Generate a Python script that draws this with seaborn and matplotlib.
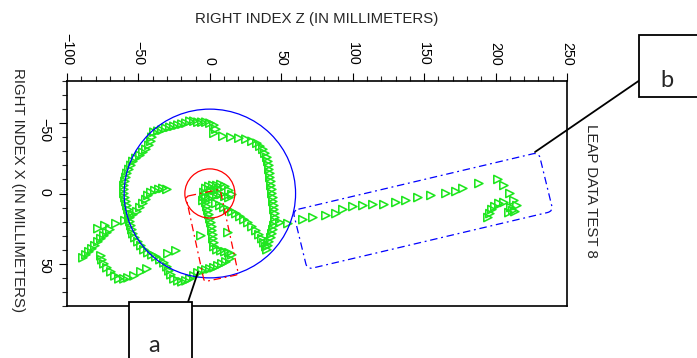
import matplotlib
matplotlib.use("Agg")
import matplotlib.pyplot as plt
import seaborn as sns
import pandas as pd
from matplotlib.patches import Ellipse, FancyBboxPatch, Rectangle
from matplotlib.transforms import Affine2D
from matplotlib.lines import Line2D
from matplotlib.ticker import MultipleLocator

# ---------------- data (Z = horizontal, X = vertical, millimeters) ----------------
loop_top_z = [-39.2, -36.4, -33.6, -30.8, -28.0, -25.2, -22.4, -19.6, -16.8, -14.0, -11.2, -8.4, -5.6, -2.8, 0.0, 2.8, 4.2]
loop_top_x = [-43.6, -44.3, -45.0, -46.4, -47.1, -47.8, -48.6, -49.3, -50.0, -51.4, -51.4, -50.7, -50.7, -50.7, -50.0, -48.6, -45.7]

top_sparse_z = [2.8, 9.1, 14.7, 20.3, 25.2, 29.4]
top_sparse_x = [-42.8, -40.7, -40.0, -39.3, -38.6, -37.1]

right_side_z = [32.9, 35.0, 37.1, 38.5, 39.9, 40.6, 41.3, 41.3, 42.0, 42.0, 42.7, 42.7, 43.4, 43.4,
                44.1, 44.1, 44.8, 44.8, 45.5, 45.5, 45.5, 44.8, 44.1, 43.4, 42.7, 41.3, 40.6, 39.9]
right_side_x = [-35.7, -33.6, -31.4, -28.6, -25.7, -22.8, -20.0, -17.1, -14.3, -11.4, -8.6, -5.7, -2.9, 0.0,
                2.9, 5.7, 8.6, 11.4, 14.3, 17.1, 20.0, 22.8, 25.7, 28.6, 31.4, 34.3, 37.1, 40.0]

diagonal_z = [4.2, 7.0, 9.8, 12.6, 15.4, 18.2, 21.0, 23.8, 26.6, 29.4, 32.2, 34.3, 36.4, 37.8, 39.2]
diagonal_x = [7.1, 8.6, 10.0, 11.4, 12.9, 14.3, 16.4, 18.6, 20.7, 23.6, 26.4, 29.3, 32.1, 35.0, 37.8]

column_loop_z = [-2.8, -2.1, -1.4, -0.7, 0.0, 0.7, 1.4, 1.4, 2.1, 2.1, 2.8, 2.8, 4.9, 7.7, 10.5, 13.3, 15.4,
                 14.0, 11.2, 8.4, 5.6, 2.8, 0.0, -2.8, -5.6, -8.4, -11.2, -14.0, -16.8, -19.6, -22.4, -25.2,
                 -27.3, -28.7, -30.1, -32.2, -35.0, -37.8, -40.6, -43.4, -46.2, -48.3, -50.4, -52.5, -53.9,
                 -54.6, -55.3, -56.0, -56.0, -56.7, -57.4, -58.1, -58.8, -59.5, -60.2, -60.2, -60.2, -59.5,
                 -58.8, -58.1, -56.7, -55.3, -53.9, -51.8, -49.0, -46.9, -44.8, -42.7, -41.3, -40.6]
column_loop_x = [6.4, 9.3, 12.1, 15.0, 17.9, 20.7, 23.6, 26.4, 29.3, 32.1, 35.0, 37.8, 40.0, 40.7, 41.4, 42.1, 43.6,
                 46.4, 48.6, 50.0, 51.4, 52.8, 53.6, 54.3, 55.0, 56.4, 58.6, 60.7, 62.1, 62.8, 62.1, 60.7,
                 57.8, 55.0, 52.1, 49.3, 47.1, 45.0, 43.6, 42.1, 40.0, 37.1, 34.3, 31.4, 28.6,
                 25.7, 22.8, 20.0, 17.1, 14.3, 11.4, 8.6, 5.7, 2.9, 0.0, -2.9, -5.7, -8.6,
                 -11.4, -14.3, -17.1, -20.0, -22.8, -25.0, -27.1, -29.3, -31.4, -34.3, -37.1, -40.0]

blob_z = [-4.2, -2.8, -0.7, 2.1, 4.9, 7.7, 10.5, 13.3, 15.4, 13.3, 10.5, 7.7, 4.9, 2.1, -0.7, -2.8, -4.2, -4.9, 0.7, 3.5, 6.3]
blob_x = [-0.7, -3.6, -5.0, -5.7, -5.7, -6.4, -5.0, -2.1, 0.7, 2.9, 2.1, 0.7, 1.4, 2.1, 3.6, 2.9, 2.1, 5.0, -2.1, -2.1, -2.9]

tongue_z = [-30.1, -32.9, -35.7, -38.5, -41.3, -43.4, -44.8, -46.9, -49.0, -51.1, -53.9, -56.7, -59.5, -65.8, -73.5, -78.4]
tongue_x = [-2.9, -3.6, -2.9, -2.1, -0.7, 1.4, 4.3, 7.1, 10.0, 12.9, 15.0, 17.1, 19.3, 21.4, 22.8, 25.0]

stroke_z = [-88.9, -86.8, -84.7, -82.6, -80.5, -78.4, -76.3, -74.2, -72.1, -70.0]
stroke_x = [45.7, 43.6, 41.4, 39.3, 37.1, 34.3, 32.1, 30.0, 27.8, 25.7]

hook_z = [-76.3, -75.6, -74.2, -72.1, -69.3, -66.5, -63.7, -60.2, -57.4, -53.2, -48.3, -44.1, -29.4, -23.8]
hook_x = [44.3, 47.1, 50.0, 52.8, 55.7, 58.6, 60.7, 60.7, 60.0, 58.6, 55.7, 53.6, 42.8, 40.7]

isolated_z = [-6.3, 12.6, 49.0]
isolated_x = [30.0, 27.8, 20.7]

far_z = [54.6, 65.1, 72.1, 81.2, 88.2, 93.1, 100.1, 107.1, 114.1, 121.8, 130.2, 137.2, 145.6, 154.7, 165.2,
         172.2, 177.1, 188.3, 201.6, 205.8, 210.0, 212.8, 214.9, 212.1, 210.7, 213.5, 209.3,
         205.8, 202.3, 199.5, 197.4, 196.0, 194.6]
far_x = [21.4, 18.6, 17.1, 15.7, 14.3, 11.4, 9.3, 8.6, 7.9, 7.9, 6.4, 5.0, 2.9, 1.4, 0.0,
         -1.4, -3.6, -7.1, -10.0, -5.7, 0.0, 5.0, 8.6, 12.1, 10.0, 12.9, 13.6,
         6.4, 7.1, 9.3, 11.4, 14.3, 17.1]

x_ticks = [-100, -50, 0, 50, 100, 150, 200, 250]
y_ticks = [-50, 0, 50]

GREEN = "#1fe61f"
BLUE = "#0000ff"
RED = "#ff0000"

segments = [
    (loop_top_z, loop_top_x), (top_sparse_z, top_sparse_x), (right_side_z, right_side_x),
    (diagonal_z, diagonal_x), (column_loop_z, column_loop_x), (blob_z, blob_x),
    (tongue_z, tongue_x), (stroke_z, stroke_x), (hook_z, hook_x),
    (isolated_z, isolated_x), (far_z, far_x),
]
df = pd.concat([pd.DataFrame({"z": z, "x": x}) for z, x in segments], ignore_index=True)

# ---------------- style ----------------
sns.set_style("white")
plt.rcParams["font.family"] = ["Liberation Sans", "DejaVu Sans"]

W, H = 697, 358
fig = plt.figure(figsize=(W / 100, H / 100), dpi=100)
ax = fig.add_axes([67 / W, 1 - 306 / H, 500 / W, 225 / H])

sns.scatterplot(data=df, x="z", y="x", marker=">", s=34, ax=ax, legend=False, zorder=2)
coll = ax.collections[0]
coll.set_facecolor("none")
coll.set_edgecolor(GREEN)
coll.set_linewidth(1.15)

ax.set_xlim(-100, 250)
ax.set_ylim(80, -80)
ax.set_xlabel("")
ax.set_ylabel("")
ax.set_xticks(x_ticks)
ax.set_yticks(y_ticks)
ax.xaxis.set_minor_locator(MultipleLocator(10))
ax.yaxis.set_minor_locator(MultipleLocator(10))
ax.xaxis.tick_top()
ax.tick_params(axis="x", which="both", top=True, bottom=False, labeltop=True, labelbottom=False,
               direction="out", labelrotation=-90)
ax.tick_params(axis="y", which="both", left=True, right=False, direction="out", labelrotation=-90)
ax.tick_params(which="major", length=5.8, width=0.8, labelsize=10.3, pad=5.5, colors="black")
ax.tick_params(which="minor", length=3.6, width=0.8)
for s in ax.spines.values():
    s.set_linewidth(1.2)
    s.set_color("black")
ax.grid(False)

# circles
ax.add_patch(Ellipse((0, 0), 120, 120, fill=False, ec=BLUE, lw=0.9, zorder=3))
ax.add_patch(Ellipse((0, 0), 35, 35, fill=False, ec=RED, lw=0.9, zorder=3))

# rotated dash-dot rounded rectangles
dash = (0, (6, 3, 1.5, 3))
blue_rect = FancyBboxPatch((0, 0), 177, 43, boxstyle="round,pad=0,rounding_size=4",
                           fill=False, ec=BLUE, lw=0.9, ls=dash, zorder=3,
                           transform=Affine2D().rotate_deg(-13.5).translate(58.1, 12.1) + ax.transData)
ax.add_patch(blue_rect)
red_rect = FancyBboxPatch((0, 0), 24.5, 62, boxstyle="round,pad=0,rounding_size=2",
                          fill=False, ec=RED, lw=0.9, ls=dash, zorder=3,
                          transform=Affine2D().rotate_deg(-12).translate(-16.8, 2.1) + ax.transData)
ax.add_patch(red_rect)

# axis titles
fig.text(317 / W, 1 - 19 / H, "RIGHT INDEX Z (IN MILLIMETERS)", ha="center", va="center", fontsize=10.8)
fig.text(18 / W, 1 - 190 / H, "RIGHT INDEX X (IN MILLIMETERS)", ha="center", va="center",
         fontsize=10.8, rotation=-90)
fig.text(591 / W, 1 - 191 / H, "LEAP DATA TEST 8", ha="center", va="center", fontsize=10.8, rotation=-90)

# annotation boxes and leader lines
fig.add_artist(Line2D([188 / W, 198 / W], [1 - 302 / H, 1 - 272 / H], color="black", lw=1.3, zorder=10))
fig.add_artist(Line2D([640 / W, 535 / W], [1 - 80 / H, 1 - 152 / H], color="black", lw=1.3, zorder=10))
fig.add_artist(Rectangle((129 / W, 1 - 362 / H), 63 / W, 60 / H, fc="white", ec="black", lw=1.3,
                         zorder=11, clip_on=False))
fig.add_artist(Rectangle((639 / W, 1 - 97 / H), 62 / W, 62 / H, fc="white", ec="black", lw=1.3,
                         zorder=11, clip_on=False))
fig.text(154 / W, 1 - 352 / H, "a", ha="center", va="baseline", fontsize=17,
         family=["Lato", "DejaVu Sans"], zorder=12)
fig.text(667 / W, 1 - 87 / H, "b", ha="center", va="baseline", fontsize=17,
         family=["Lato", "DejaVu Sans"], zorder=12)

fig.savefig("out.png", dpi=100, facecolor="white")
